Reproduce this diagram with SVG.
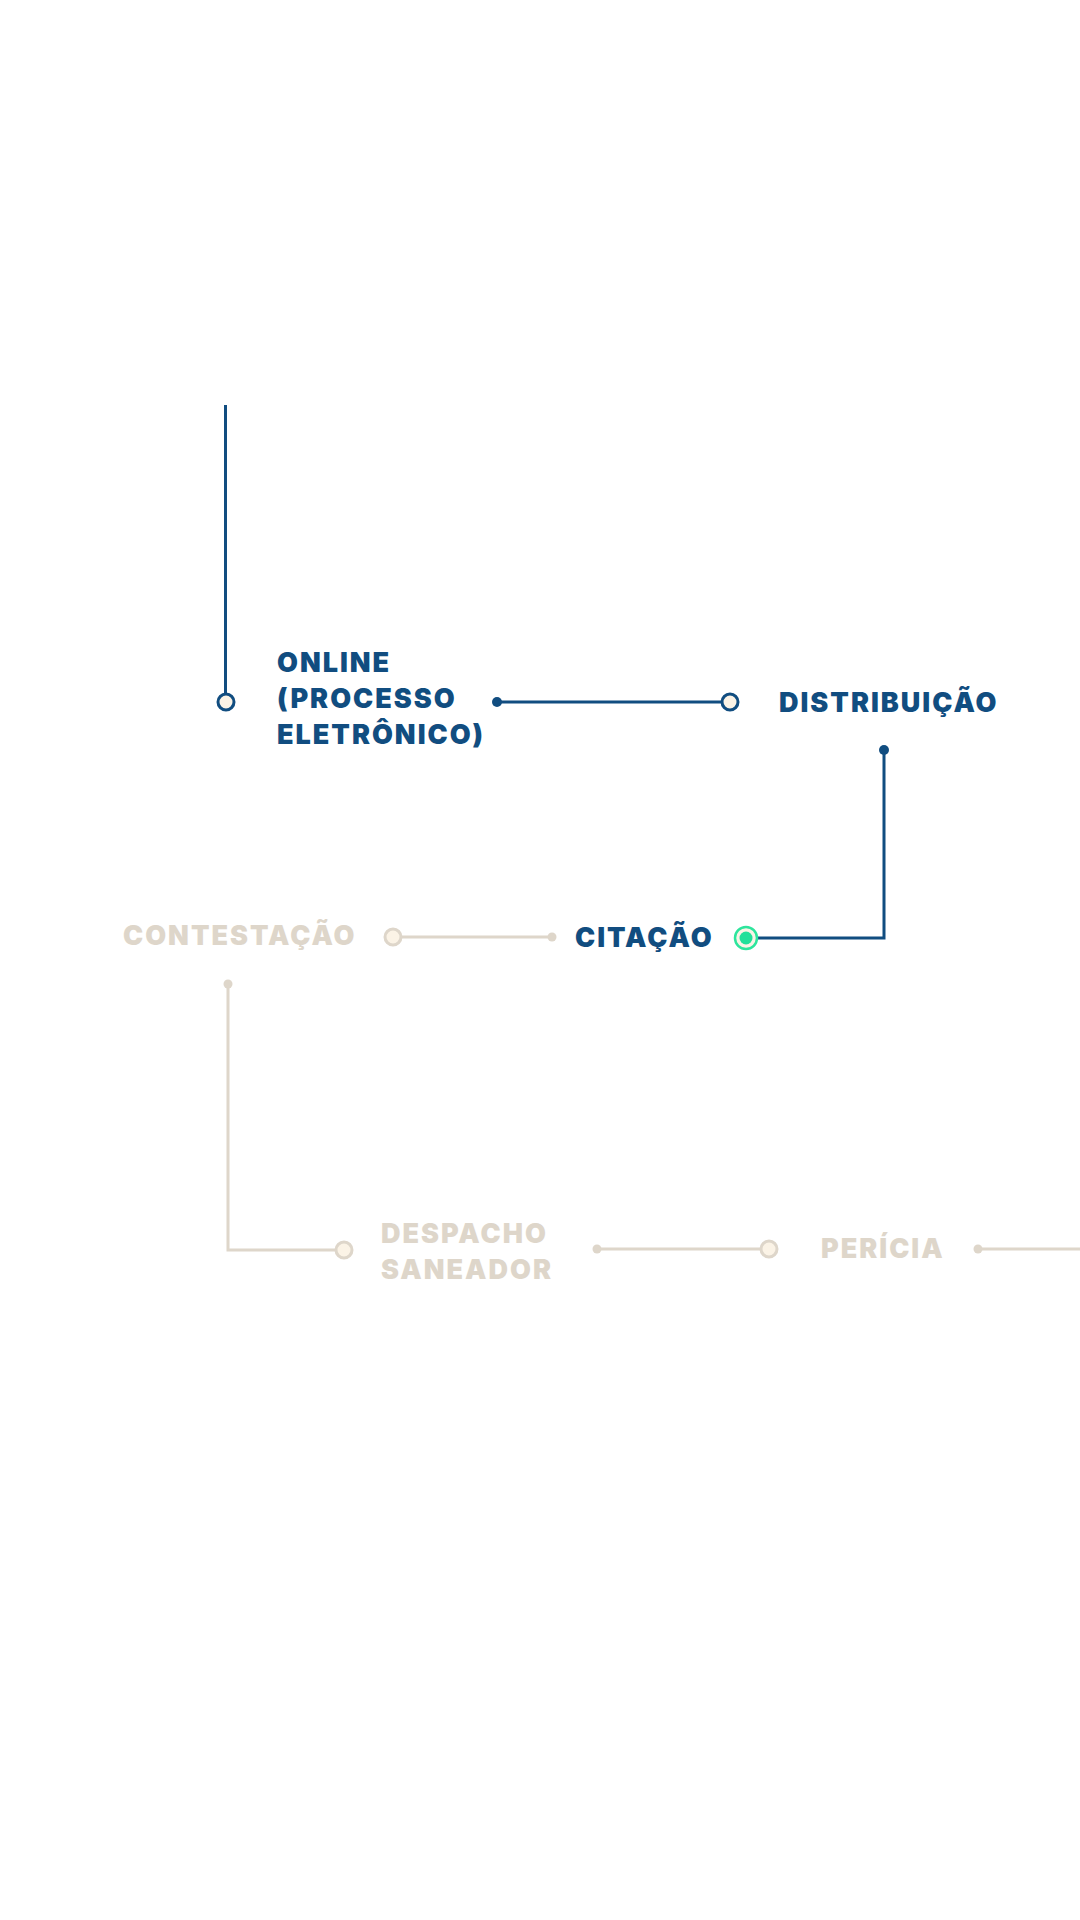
<svg xmlns="http://www.w3.org/2000/svg" width="1080" height="1920" viewBox="0 0 1080 1920">
<style>
.t{font-family:Inter,"Liberation Sans",Arial,sans-serif;font-weight:900;font-size:27px;letter-spacing:2px}
.nv{fill:#114D80}
.bg{fill:#DED6CA}
.ln{fill:none;stroke-width:3}
.lnv{stroke:#114D80}
.lbg{stroke:#DED6CA}
.ring{fill:#FBF3E6;stroke-width:3}
</style>
<rect width="1080" height="1920" fill="#FFFFFF"/>
<g id="connectors">
<line class="ln lnv" x1="225.5" y1="405" x2="225.5" y2="693"/>
<circle cx="497" cy="702" r="5" fill="#114D80"/>
<line class="ln lnv" x1="497" y1="702" x2="721" y2="702"/>
<circle cx="884" cy="750" r="5" fill="#114D80"/>
<polyline class="ln lnv" points="884,750 884,938 757,938"/>
<circle cx="552" cy="937" r="4.5" fill="#DED6CA"/>
<line class="ln lbg" x1="402" y1="937" x2="552" y2="937"/>
<circle cx="228" cy="984" r="4.5" fill="#DED6CA"/>
<polyline class="ln lbg" points="228,984 228,1250 335,1250"/>
<circle cx="597" cy="1249" r="4.5" fill="#DED6CA"/>
<line class="ln lbg" x1="597" y1="1249" x2="760" y2="1249"/>
<circle cx="978" cy="1249" r="4.5" fill="#DED6CA"/>
<line class="ln lbg" x1="978" y1="1249" x2="1080" y2="1249"/>
</g>
<g id="node-online">
<circle class="ring lnv" cx="226" cy="702" r="8"/>
<text class="t nv"><tspan x="277" y="672">ONLINE</tspan><tspan x="277" y="708">(PROCESSO</tspan><tspan x="277" y="744">ELETRÔNICO)</tspan></text>
</g>
<g id="node-distribuicao">
<circle class="ring lnv" cx="730" cy="702" r="8"/>
<text class="t nv" x="779" y="712">DISTRIBUIÇÃO</text>
</g>
<g id="node-citacao">
<circle cx="746" cy="938" r="11" fill="#FBF3E6" stroke="#2EE59D" stroke-width="2.5"/>
<circle cx="746" cy="938" r="6.5" fill="#22E09A"/>
<text class="t nv" x="575" y="947">CITAÇÃO</text>
</g>
<g id="node-contestacao">
<circle class="ring lbg" cx="393" cy="937" r="8"/>
<text class="t bg" x="123" y="945">CONTESTAÇÃO</text>
</g>
<g id="node-despacho">
<circle class="ring lbg" cx="344" cy="1250" r="8"/>
<text class="t bg"><tspan x="381" y="1243">DESPACHO</tspan><tspan x="381" y="1279">SANEADOR</tspan></text>
</g>
<g id="node-pericia">
<circle class="ring lbg" cx="769" cy="1249" r="8"/>
<text class="t bg" x="821" y="1258">PERÍCIA</text>
</g>
</svg>
